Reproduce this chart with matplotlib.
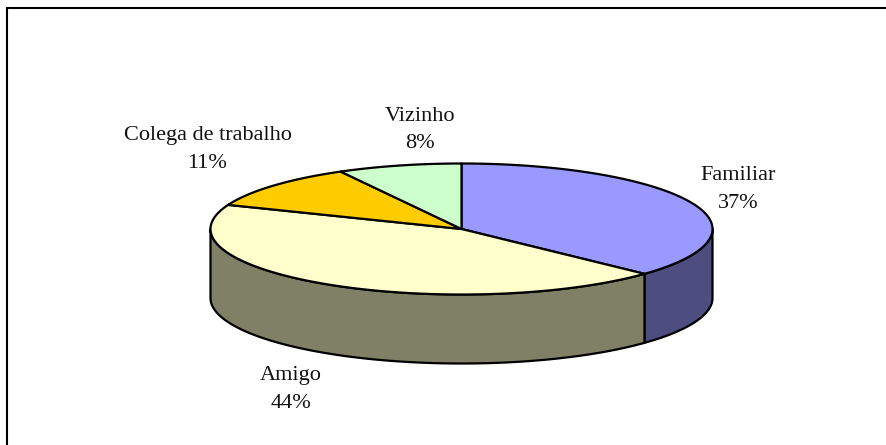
import numpy as np
import matplotlib
matplotlib.use('Agg')
import matplotlib.pyplot as plt
from matplotlib.patches import Polygon

categories = ['Familiar', 'Amigo', 'Colega de trabalho', 'Vizinho']
values = [37, 44, 11, 8]
percent_labels = ['37%', '44%', '11%', '8%']
top_colors = ['#9999FF', '#FFFFCC', '#FFCC00', '#CCFFCC']
side_colors = ['#4D4D80', '#808066', '#806600', '#668066']
label_xy = [(738, 189.5), (291, 389.5), (207.5, 149.5), (420, 130)]

W, H = 886, 445
cx, cy, rx, ry, depth = 461.5, 229, 251, 65.5, 69

plt.rcParams['font.family'] = ['Liberation Serif', 'DejaVu Serif']
fig = plt.figure(figsize=(W / 100, H / 100), dpi=100, facecolor='white')
ax = fig.add_axes([0, 0, 1, 1])
ax.set_xlim(0, W)
ax.set_ylim(H, 0)
ax.axis('off')

ax.plot([7, 7, W], [H, 7.5, 7.5], color='black', lw=1.5, solid_joinstyle='miter')


def rim(a0, a1, dy=0.0):
    t = np.radians(np.linspace(a0, a1, 200))
    return np.column_stack([cx + rx * np.sin(t), cy - ry * np.cos(t) + dy])


fracs = np.array(values, dtype=float) / sum(values) * 360
ends = np.cumsum(fracs)
starts = ends - fracs

# Side walls: only the front half of the rim (90..270 degrees) is visible
for a0, a1, c in zip(starts, ends, side_colors):
    lo, hi = max(a0, 90), min(a1, 270)
    if lo < hi:
        top = rim(lo, hi)
        bottom = rim(hi, lo, depth)
        ax.add_patch(Polygon(np.vstack([top, bottom]), closed=True, facecolor=c,
                             edgecolor='black', lw=1.6, joinstyle='round', zorder=2))

# Top face
for a0, a1, c in zip(starts, ends, top_colors):
    pts = np.vstack([[[cx, cy]], rim(a0, a1)])
    ax.add_patch(Polygon(pts, closed=True, facecolor=c, edgecolor='black',
                         lw=1.6, joinstyle='round', zorder=3))

for (x, y), name, pct in zip(label_xy, categories, percent_labels):
    ax.text(x, y, f'{name}\n{pct}', ha='center', va='center', fontsize=16,
            color='#111111', linespacing=1.6, zorder=4)

fig.savefig('out.png', dpi=100, facecolor='white')
